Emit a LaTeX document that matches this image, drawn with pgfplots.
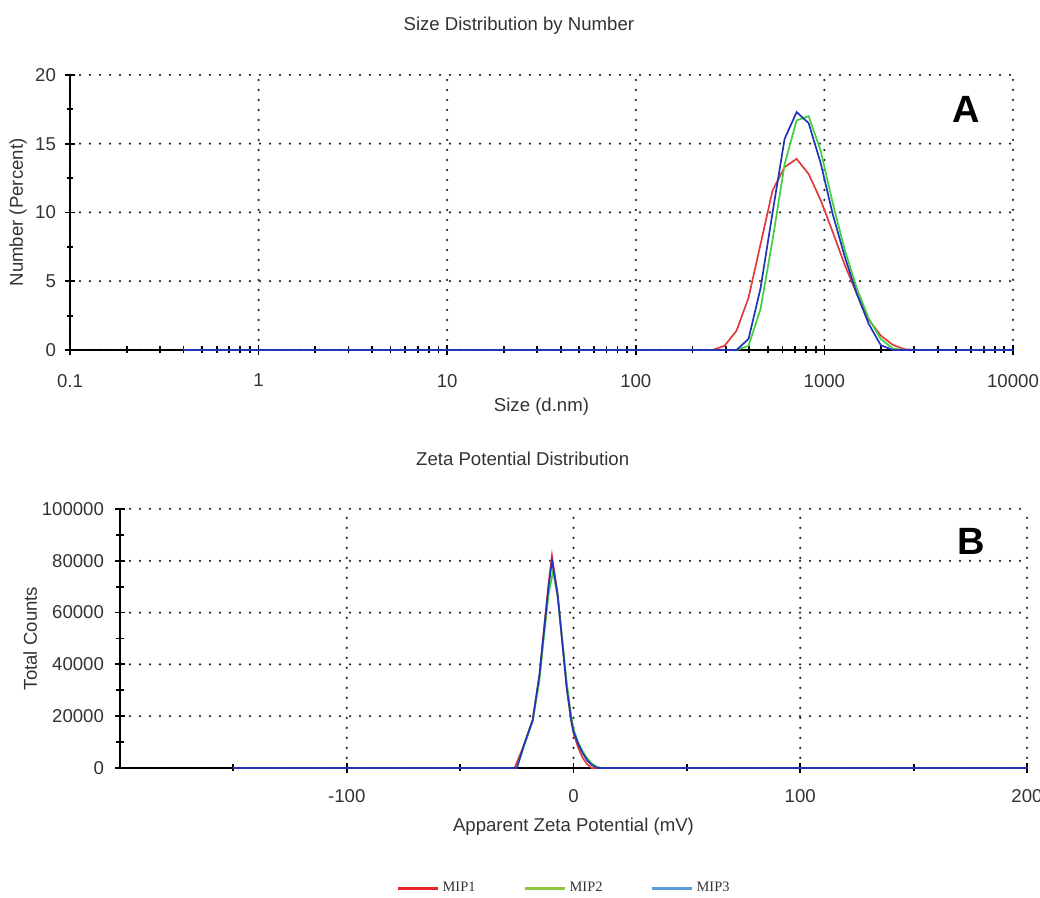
\documentclass[border=0pt]{standalone}
\usepackage{fontspec}
\setmainfont{Liberation Sans}
\newfontfamily\legfont{Liberation Serif}
\usepackage{pgfplots}
\pgfplotsset{compat=1.18}
\definecolor{mipred}{HTML}{E23B3B}
\definecolor{mipgreen}{HTML}{3FD03F}
\definecolor{mipblue}{HTML}{2233B8}
\definecolor{legred}{HTML}{E8262A}
\definecolor{leggreen}{HTML}{8CC63F}
\definecolor{legblue}{HTML}{5B9BD5}
\definecolor{txt}{HTML}{333333}

\pgfplotsset{zeta/.style={
  scale only axis, axis lines=left, axis line style={-, line width=1pt, black},
  tick align=center, major tick length=5pt, minor tick length=3.5pt,
  every tick/.style={black, line width=0.9pt},
  grid=major, major grid style={black!85, line width=1.25pt, line cap=round, dash pattern=on 0pt off 5pt},
  tick label style={font=\fontsize{9.3}{11}\selectfont, text=txt},
  label style={font=\fontsize{9.3}{11}\selectfont, text=txt},
  title style={font=\fontsize{9.3}{11}\selectfont, text=txt},
  /pgf/number format/assume math mode=true,
  /pgf/number format/1000 sep={},
  scaled y ticks=false,
  clip=false,
}}

\begin{document}
\begin{tikzpicture}
\path[use as bounding box] (0,0) rectangle (520pt,449pt);

% A: size distribution by number
\begin{axis}[zeta, at={(35pt,274pt)}, anchor=south west,
  width=471.5pt, height=137.5pt,
  xmode=log, xmin=0.1, xmax=10000, ymin=0, ymax=20,
  xtick={0.1,1,10,100,1000,10000}, xticklabels={0.1,1,10,100,1000,10000},
  minor xtick={0.2,0.3,0.4,0.5,0.6,0.7,0.8,0.9,2,3,4,5,6,7,8,9,20,30,40,50,60,70,80,90,200,300,400,500,600,700,800,900,2000,3000,4000,5000,6000,7000,8000,9000},
  ytick={0,5,10,15,20}, minor ytick={2.5,7.5,12.5,17.5},
  xticklabel style={yshift=-6pt}, yticklabel style={xshift=-1pt},
  xlabel={Size (d.nm)}, ylabel={Number (Percent)},
  xlabel style={at={(axis description cs:0.5,-0.205)}, anchor=center},
  ylabel style={at={(axis description cs:-0.055,0.5)}, anchor=center},
  title={Size Distribution by Number},
  title style={at={(axis description cs:0.476,1.134)}, anchor=center}]
  \addplot[mipred, line width=0.85pt, forget plot] coordinates {
    (0.4,0) (255,0) (295.3,0.3) (342,1.4) (396.1,3.8) (458.7,7.7) (531.2,11.6)
    (615.1,13.3) (712.4,13.9) (825,12.8) (955.4,10.9) (1106,8.6) (1281,6.2)
    (1484,4.1) (1718,2.2) (1990,1.05) (2305,0.37) (2669,0.05) (3091,0) (10000,0)};
  \addplot[mipgreen, line width=0.85pt, forget plot] coordinates {
    (0.4,0) (342,0) (396.1,0.3) (458.7,3.0) (531.2,8.0) (615.1,13.5) (712.4,16.7)
    (825,17.0) (955.4,14.5) (1106,10.7) (1281,7.3) (1484,4.5) (1718,2.3)
    (1990,0.8) (2305,0.1) (2669,0) (10000,0)};
  \addplot[mipblue, line width=0.85pt, forget plot] coordinates {
    (0.4,0) (342,0) (396.1,0.8) (458.7,4.5) (531.2,10.0) (615.1,15.35) (712.4,17.3)
    (825,16.5) (955.4,13.6) (1106,9.9) (1281,6.8) (1484,4.1) (1718,1.9)
    (1990,0.35) (2305,0) (10000,0)};
  \node[font=\bfseries\fontsize{19}{22}\selectfont] at (axis description cs:0.950,0.873) {A};
\end{axis}

% B: zeta potential distribution
\begin{axis}[zeta, at={(60pt,65pt)}, anchor=south west,
  width=453.5pt, height=129.5pt,
  xmin=-200, xmax=200, ymin=0, ymax=100000,
  xtick={-100,0,100,200}, xticklabels={-100,0,100,200}, minor xtick={-150,-50,50,150},
  ytick={0,20000,40000,60000,80000,100000}, yticklabels={0,20000,40000,60000,80000,100000},
  minor ytick={10000,30000,50000,70000,90000},
  xticklabel style={yshift=-4.5pt}, yticklabel style={xshift=-2pt},
  xlabel={Apparent Zeta Potential (mV)}, ylabel={Total Counts},
  xlabel style={at={(axis description cs:0.5,-0.228)}, anchor=center},
  ylabel style={at={(axis description cs:-0.099,0.5)}, anchor=center},
  title={Zeta Potential Distribution},
  title style={at={(axis description cs:0.444,1.147)}, anchor=center},
  legend columns=3,
  legend style={draw=none, fill=none, at={(axis description cs:0.4906,-0.465)}, anchor=center,
    font=\legfont\fontsize{7.2}{8}\selectfont, text=txt,
    /tikz/every even column/.append style={column sep=22pt}},
  legend image code/.code={\draw[#1] (0pt,0pt) -- (20pt,0pt);}]
  \addplot[mipred, line width=0.85pt, forget plot] coordinates {
    (-150,0) (-26,0) (-22,8500) (-18,18500) (-15,36000) (-13,54000) (-11,71000)
    (-9.5,82000) (-7,67000) (-5,49000) (-3,31000) (-1,18000) (0,13500) (2,8000)
    (4,4000) (6,1500) (8,0) (200,0)};
  \addplot[mipgreen, line width=0.85pt, forget plot] coordinates {
    (-150,0) (-25,0) (-22,8000) (-18,18000) (-15,34000) (-13,51000) (-11,67000)
    (-9,76000) (-7,66000) (-5,50000) (-3,33000) (-1,20000) (0,15000) (2,10000)
    (4,6500) (6,3800) (8,1800) (10,600) (12,0) (200,0)};
  \addplot[mipblue, line width=0.85pt, forget plot] coordinates {
    (-150,0) (-25,0) (-22,8500) (-18,18500) (-15,36000) (-13,53000) (-11,70000)
    (-9.5,80000) (-7,67000) (-5,49000) (-3,31000) (-1,18500) (0,14000) (2,9500)
    (4,5800) (6,3000) (8,1200) (10,200) (11,0) (200,0)};
  \node[font=\bfseries\fontsize{19}{22}\selectfont] at (axis description cs:0.939,0.876) {B};
  \addlegendimage{legred, line width=1.1pt}
  \addlegendentry{MIP1}
  \addlegendimage{leggreen, line width=1.1pt}
  \addlegendentry{MIP2}
  \addlegendimage{legblue, line width=1.1pt}
  \addlegendentry{MIP3}
\end{axis}
\end{tikzpicture}
\end{document}
